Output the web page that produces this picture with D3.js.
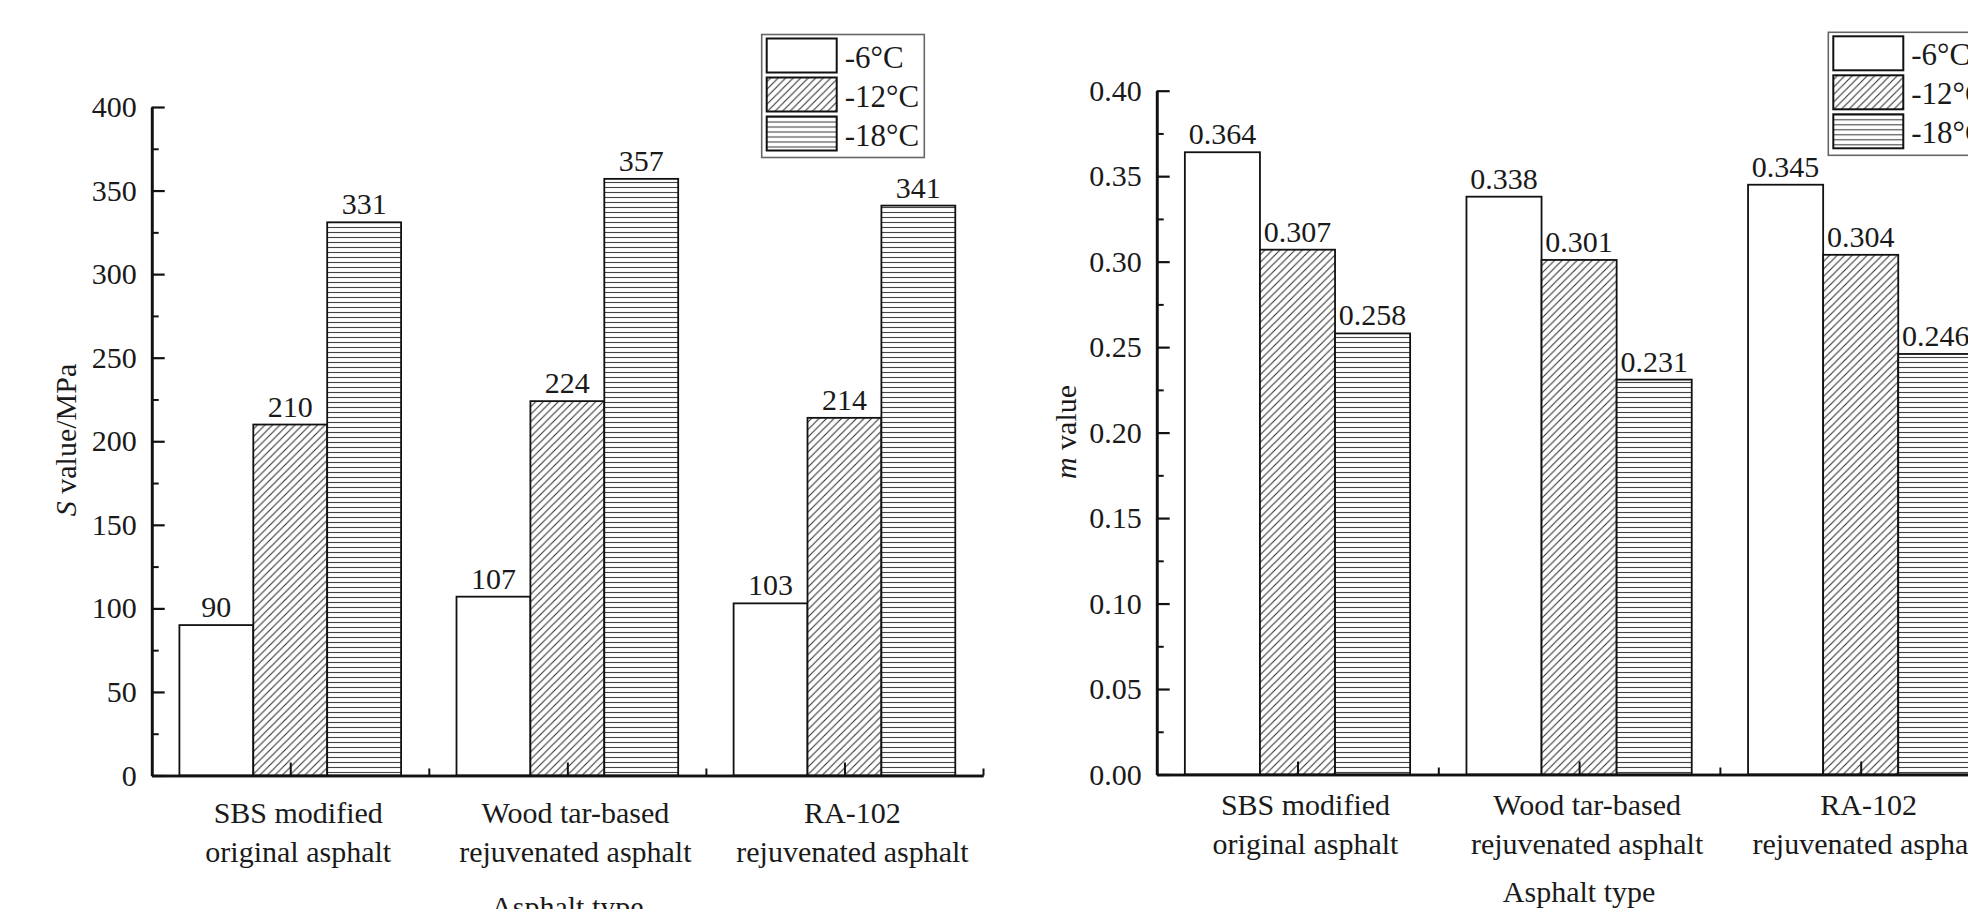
<!DOCTYPE html>
<html>
<head>
  <meta charset="utf-8">
  <title>S value and m value</title>
  <script src="https://d3js.org/d3.v7.min.js"></script>
  <style>
    body { margin: 0; background: #fff; }
    text { font-family: "Liberation Serif", "Times New Roman", serif; font-size: 30px; fill: #1a1a1a; }
  </style>
</head>
<body>

<div id="vis"></div>

<script>
// valores
var categories = ["SBS modified original asphalt", "Wood tar-based rejuvenated asphalt", "RA-102 rejuvenated asphalt"];
var catLines = [["SBS modified", "original asphalt"],
                ["Wood tar-based", "rejuvenated asphalt"],
                ["RA-102", "rejuvenated asphalt"]];
var temps = ["-6°C", "-12°C", "-18°C"];

// S value (MPa)
var s6  = [90, 107, 103];
var s12 = [210, 224, 214];
var s18 = [331, 357, 341];

// m value
var m6  = [0.364, 0.338, 0.345];
var m12 = [0.307, 0.301, 0.304];
var m18 = [0.258, 0.231, 0.246];

var sTicks = [0, 50, 100, 150, 200, 250, 300, 350, 400];
var mTicks = [0, 0.05, 0.10, 0.15, 0.20, 0.25, 0.30, 0.35, 0.40];

var fills = ["#fff", "url(#diag)", "url(#horiz)"];

var svg = d3.select("div#vis").append("svg")
  .attr("width", 1968)
  .attr("height", 909);

var defs = svg.append("defs");

var diag = defs.append("pattern")
  .attr("id", "diag")
  .attr("patternUnits", "userSpaceOnUse")
  .attr("width", 7.5).attr("height", 7.5);
diag.append("rect").attr("width", 7.5).attr("height", 7.5).attr("fill", "#fff");
diag.append("path")
  .attr("d", "M-1,1 L1,-1 M0,7.5 L7.5,0 M6.5,8.5 L8.5,6.5")
  .attr("stroke", "#333").attr("stroke-width", 1.1);

var horiz = defs.append("pattern")
  .attr("id", "horiz")
  .attr("patternUnits", "userSpaceOnUse")
  .attr("width", 8).attr("height", 5);
horiz.append("rect").attr("width", 8).attr("height", 5).attr("fill", "#fff");
horiz.append("line")
  .attr("x1", 0).attr("x2", 8).attr("y1", 2.5).attr("y2", 2.5)
  .attr("stroke", "#444").attr("stroke-width", 1.1);

function styleAxis(sel, w) {
  sel.select(".domain").attr("stroke", "#111").attr("stroke-width", 2.6);
  sel.selectAll(".tick line").attr("stroke", "#111").attr("stroke-width", w);
}

function drawChart(o) {
  var g = svg.append("g");

  var x = d3.scaleBand()
    .domain(categories)
    .range([o.left, o.right])
    .paddingInner(0.2)
    .paddingOuter(0.1);

  var xs = d3.scaleBand()
    .domain(temps)
    .range([0, x.bandwidth()]);

  var xl = d3.scaleLinear()
    .domain([0.5, 3.5])
    .range([o.left, o.right]);

  var y = d3.scaleLinear()
    .domain([0, o.ticks[o.ticks.length - 1]])
    .range([o.bottom, o.top]);

  var rows = [];
  categories.forEach(function(c, i) {
    temps.forEach(function(t, j) {
      rows.push({cat: c, t: t, j: j, v: o.series[j][i]});
    });
  });

  g.selectAll("rect.bar").data(rows).enter().append("rect")
    .attr("class", "bar")
    .attr("x", function(d) { return x(d.cat) + xs(d.t); })
    .attr("y", function(d) { return y(d.v); })
    .attr("width", xs.bandwidth())
    .attr("height", function(d) { return y(0) - y(d.v); })
    .attr("fill", function(d) { return fills[d.j]; })
    .attr("stroke", "#111")
    .attr("stroke-width", 1.8);

  g.selectAll("text.val").data(rows).enter().append("text")
    .attr("class", "val")
    .attr("x", function(d) { return x(d.cat) + xs(d.t) + xs.bandwidth() / 2; })
    .attr("y", function(d) { return y(d.v) - 8; })
    .attr("text-anchor", "middle")
    .text(function(d) { return o.valFmt(d.v); });

  // eje y
  var minor = o.ticks.slice(1).map(function(t, i) { return (t + o.ticks[i]) / 2; });

  g.append("g")
    .attr("transform", "translate(" + o.left + ",0)")
    .call(d3.axisLeft(y).tickValues(minor).tickFormat("").tickSizeInner(-7).tickSizeOuter(0))
    .call(styleAxis, 2);

  g.append("g")
    .attr("transform", "translate(" + o.left + ",0)")
    .call(d3.axisLeft(y).tickValues(o.ticks).tickFormat(o.tickFmt).tickSizeInner(-13).tickSizeOuter(0).tickPadding(15))
    .call(styleAxis, 2.2);

  // eje x
  g.append("g")
    .attr("transform", "translate(0," + o.bottom + ")")
    .call(d3.axisBottom(xl).tickValues([1.5, 2.5, 3.5]).tickFormat("").tickSizeInner(-7).tickSizeOuter(0))
    .call(styleAxis, 2);

  g.append("g")
    .attr("transform", "translate(0," + o.bottom + ")")
    .call(d3.axisBottom(xl).tickValues([1, 2, 3]).tickFormat("").tickSizeInner(-13).tickSizeOuter(0))
    .call(styleAxis, 2);

  // etiquetas de categoria
  var cl = g.selectAll("text.cat").data(catLines).enter().append("text")
    .attr("class", "cat")
    .attr("text-anchor", "middle");
  cl.append("tspan")
    .attr("x", function(d, i) { return xl(i + 1) + 8; })
    .attr("y", o.bottom + o.lab1)
    .text(function(d) { return d[0]; });
  cl.append("tspan")
    .attr("x", function(d, i) { return xl(i + 1) + 8; })
    .attr("y", o.bottom + o.lab2)
    .text(function(d) { return d[1]; });

  g.append("text")
    .attr("x", xl(2))
    .attr("y", o.titleY)
    .attr("text-anchor", "middle")
    .text("Asphalt type");

  var yl = g.append("text")
    .attr("transform", "translate(" + o.ylabX + "," + o.ylabY + ") rotate(-90)")
    .attr("text-anchor", "middle");
  yl.append("tspan").attr("font-style", "italic").text(o.ylab[0]);
  yl.append("tspan").text(o.ylab[1]);

  // leyenda
  var lg = g.append("g").attr("transform", "translate(" + o.legX + "," + o.legY + ")");
  lg.append("rect")
    .attr("width", o.legW).attr("height", 123)
    .attr("fill", "#fff")
    .attr("stroke", "#666").attr("stroke-width", 1.6);
  lg.selectAll("rect.sw").data(temps).enter().append("rect")
    .attr("class", "sw")
    .attr("x", 5)
    .attr("y", function(d, i) { return 4 + i * 39; })
    .attr("width", 70).attr("height", 34)
    .attr("fill", function(d, i) { return fills[i]; })
    .attr("stroke", "#111").attr("stroke-width", 2);
  lg.selectAll("text.lt").data(temps).enter().append("text")
    .attr("class", "lt")
    .attr("x", 83)
    .attr("y", function(d, i) { return 33 + i * 39; })
    .style("font-size", "31px")
    .text(function(d) { return d; });
}

drawChart({
  series: [s6, s12, s18],
  ticks: sTicks,
  tickFmt: d3.format("d"),
  valFmt: d3.format("d"),
  left: 151.7, right: 983, top: 107, bottom: 775.5,
  lab1: 47, lab2: 86, titleY: 917,
  ylab: ["S", " value/MPa"], ylabX: 76, ylabY: 440,
  legX: 761.7, legY: 34.5, legW: 162.6
});

drawChart({
  series: [m6, m12, m18],
  ticks: mTicks,
  tickFmt: d3.format(".2f"),
  valFmt: d3.format(".3f"),
  left: 1156.7, right: 2001.5, top: 90.7, bottom: 774.5,
  lab1: 40, lab2: 79, titleY: 902,
  ylab: ["m", " value"], ylabX: 1076, ylabY: 432,
  legX: 1828.3, legY: 32.3, legW: 200
});
</script>

</body>
</html>
